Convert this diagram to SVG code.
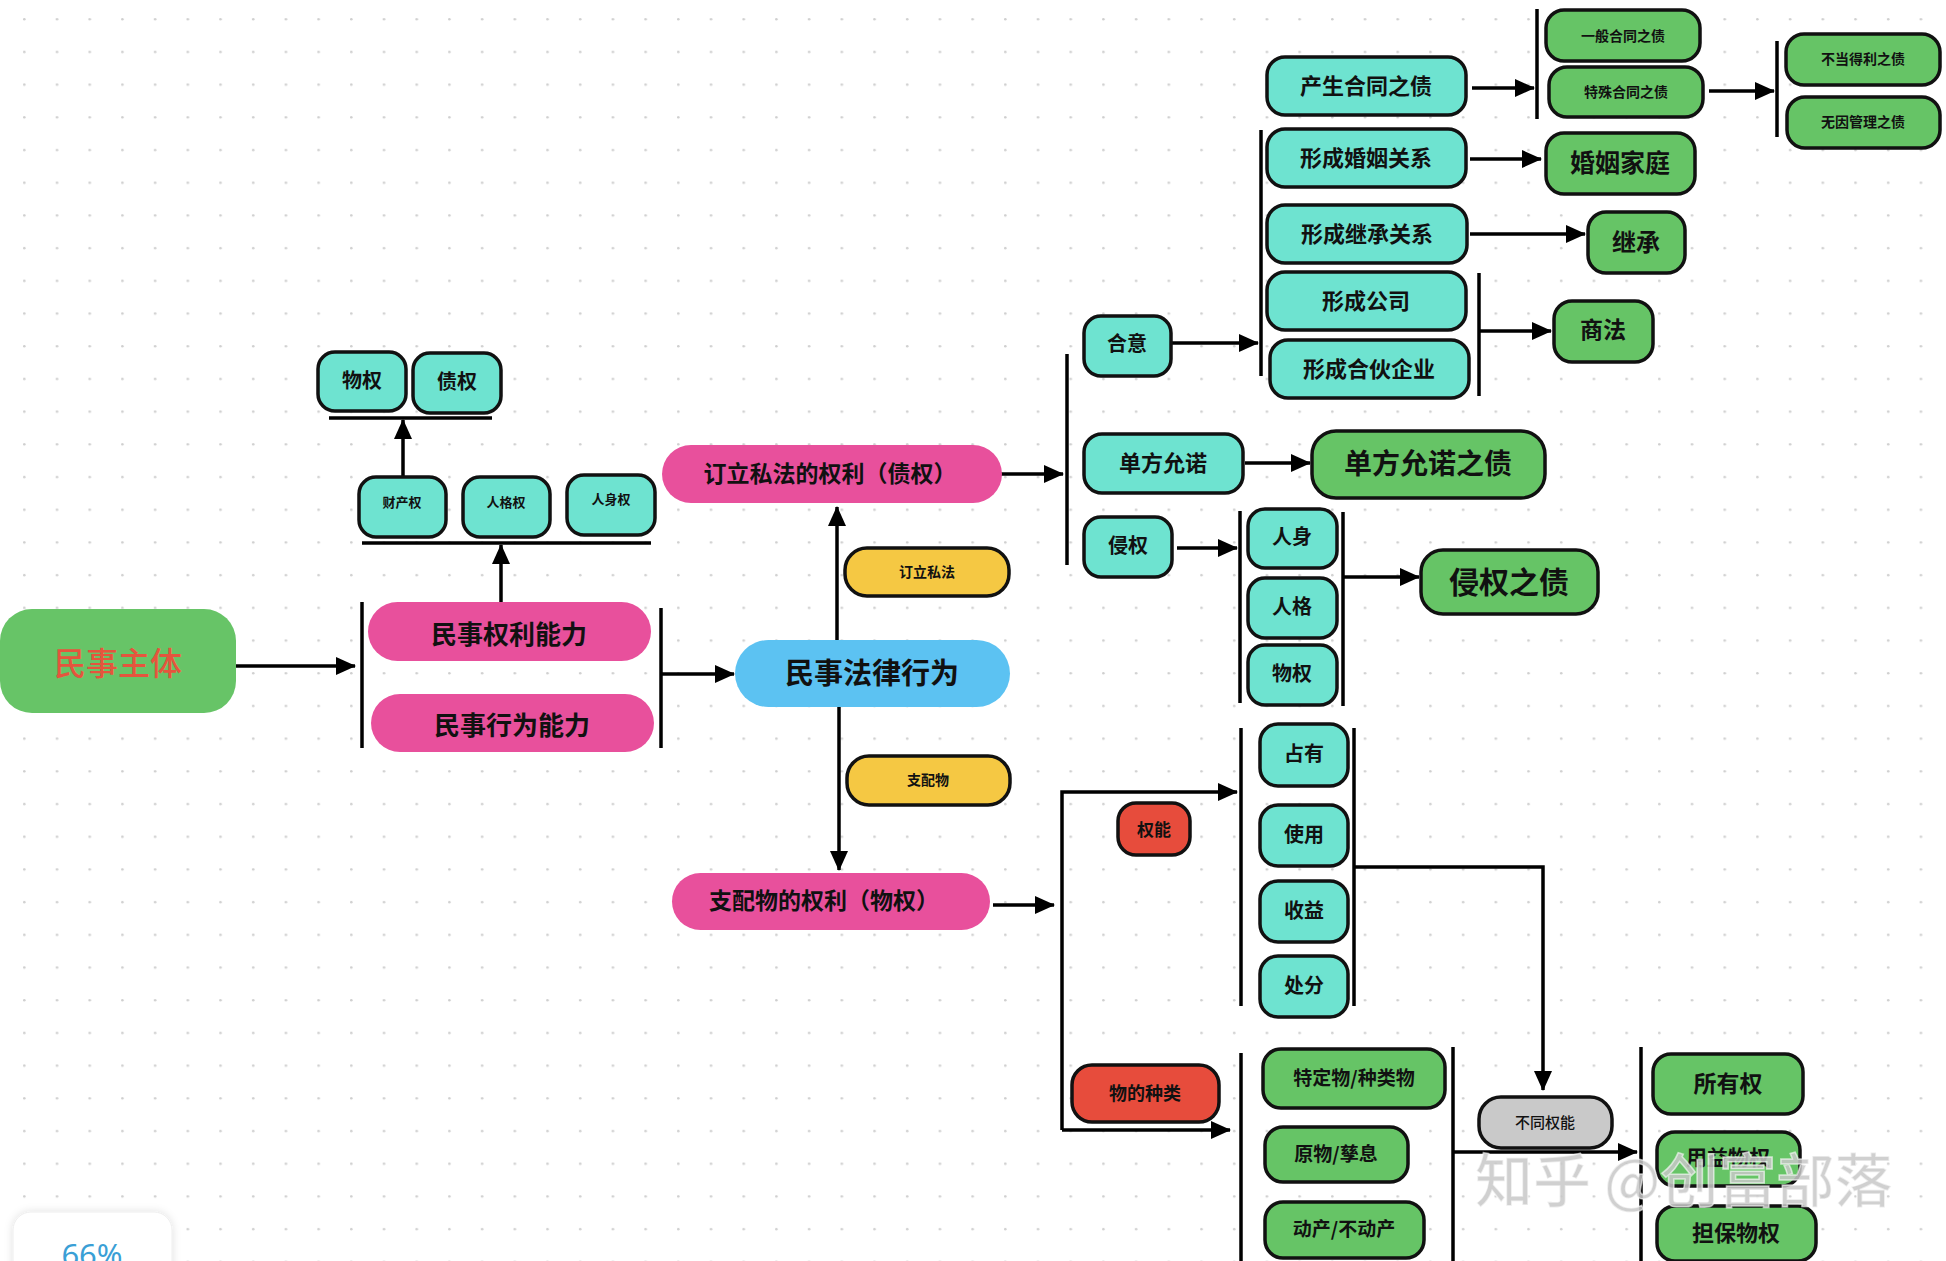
<svg xmlns="http://www.w3.org/2000/svg" width="1946" height="1261" viewBox="0 0 1946 1261">
<style>
.t{font-family:"PingFang SC","Noto Sans CJK SC","Noto Sans",sans-serif;font-weight:700;fill:#111;text-anchor:middle;dominant-baseline:central}
.teal{fill:#6ee3d0;stroke:#111;stroke-width:3.5}
.green{fill:#66c466;stroke:#111;stroke-width:3.5}
.yellow{fill:#f5c843;stroke:#111;stroke-width:3.5}
.red{fill:#e74c3c;stroke:#111;stroke-width:3.5}
.gray{fill:#c9c9c9;stroke:#111;stroke-width:3.5}
.pink{fill:#e8509c}
.blue{fill:#5cc2f2}
.ln{fill:none;stroke:#000;stroke-width:3.5}
.ar{fill:none;stroke:#000;stroke-width:3.5;marker-end:url(#ah)}
</style>
<defs>
<pattern id="dots" x="23" y="18" width="32.7" height="32.7" patternUnits="userSpaceOnUse">
<circle cx="1.3" cy="1.3" r="1.3" fill="#cfcfcf"/>
</pattern>
<marker id="ah" markerUnits="userSpaceOnUse" markerWidth="20" markerHeight="18" refX="19" refY="9" orient="auto">
<path d="M0,0 L20,9 L0,18 z" fill="#000"/>
</marker>
<filter id="sh" x="-20%" y="-20%" width="140%" height="140%">
<feDropShadow dx="0" dy="0" stdDeviation="4" flood-color="#000" flood-opacity="0.12"/>
</filter>
</defs>
<rect width="1946" height="1261" fill="#fff"/>
<rect width="1946" height="1261" fill="url(#dots)"/>

<g id="connectors">
<line class="ar" x1="236" y1="666" x2="355" y2="666"/>
<line class="ln" x1="362" y1="602" x2="362" y2="748"/>
<line class="ln" x1="661" y1="608" x2="661" y2="748"/>
<line class="ar" x1="661" y1="674" x2="734" y2="674"/>
<line class="ar" x1="501" y1="602" x2="501" y2="545"/>
<line class="ln" x1="362" y1="543" x2="651" y2="543"/>
<line class="ar" x1="403" y1="477" x2="403" y2="420"/>
<line class="ln" x1="329" y1="418" x2="492" y2="418"/>
<line class="ar" x1="837" y1="640" x2="837" y2="507"/>
<line class="ar" x1="839" y1="707" x2="839" y2="870"/>
<line class="ar" x1="998" y1="474" x2="1063" y2="474"/>
<line class="ln" x1="1067" y1="354" x2="1067" y2="565"/>
<line class="ar" x1="1171" y1="343" x2="1258" y2="343"/>
<line class="ln" x1="1261" y1="130" x2="1261" y2="376"/>
<line class="ar" x1="1472" y1="88" x2="1534" y2="88"/>
<line class="ln" x1="1537" y1="9" x2="1537" y2="119"/>
<line class="ar" x1="1709" y1="91" x2="1774" y2="91"/>
<line class="ln" x1="1777" y1="41" x2="1777" y2="137"/>
<line class="ar" x1="1470" y1="159" x2="1541" y2="159"/>
<line class="ar" x1="1470" y1="234" x2="1585" y2="234"/>
<line class="ln" x1="1479" y1="273" x2="1479" y2="396"/>
<line class="ar" x1="1479" y1="331" x2="1551" y2="331"/>
<line class="ar" x1="1245" y1="463" x2="1310" y2="463"/>
<line class="ar" x1="1177" y1="548" x2="1237" y2="548"/>
<line class="ln" x1="1240" y1="511" x2="1240" y2="703"/>
<line class="ln" x1="1343" y1="512" x2="1343" y2="706"/>
<line class="ar" x1="1343" y1="577" x2="1419" y2="577"/>
<line class="ar" x1="993" y1="905" x2="1054" y2="905"/>
<path class="ar" d="M1062,1130 V792 H1237"/>
<line class="ar" x1="1062" y1="1130" x2="1230" y2="1130"/>
<line class="ln" x1="1241" y1="728" x2="1241" y2="1006"/>
<line class="ln" x1="1354" y1="728" x2="1354" y2="1006"/>
<path class="ar" d="M1354,867 H1543 V1090"/>
<line class="ln" x1="1241" y1="1053" x2="1241" y2="1261"/>
<line class="ln" x1="1453" y1="1047" x2="1453" y2="1261"/>
<line class="ar" x1="1453" y1="1152" x2="1637" y2="1152"/>
<line class="ln" x1="1641" y1="1047" x2="1641" y2="1261"/>
</g>

<g id="n-minshizhuti"><rect x="0" y="609" width="236" height="104" rx="32" fill="#67c467"/><text class="t" x="118" y="661" style="font-size:32px;font-weight:500;fill:#e5553d">民事主体</text></g>
<g id="n-quanlinengli"><rect class="pink" x="368" y="602" width="283" height="59" rx="29.5"/><text class="t" x="509" y="632" font-size="26">民事权利能力</text></g>
<g id="n-xingweinengli"><rect class="pink" x="371" y="694" width="283" height="58" rx="29"/><text class="t" x="512" y="723" font-size="26">民事行为能力</text></g>
<g id="n-caichanquan"><rect class="teal" x="359" y="477" width="87" height="60" rx="17"/><text class="t" x="402" y="501" font-size="13">财产权</text></g>
<g id="n-rengequan"><rect class="teal" x="463" y="477" width="87" height="60" rx="17"/><text class="t" x="506" y="501" font-size="13">人格权</text></g>
<g id="n-renshenquan"><rect class="teal" x="567" y="475" width="88" height="60" rx="17"/><text class="t" x="611" y="498" font-size="13">人身权</text></g>
<g id="n-wuquan-top"><rect class="teal" x="318" y="352" width="88" height="59" rx="17"/><text class="t" x="362" y="379" font-size="20">物权</text></g>
<g id="n-zhaiquan-top"><rect class="teal" x="413" y="353" width="88" height="60" rx="17"/><text class="t" x="457" y="380" font-size="20">债权</text></g>
<g id="n-dingli"><rect class="pink" x="662" y="445" width="340" height="58" rx="29"/><text class="t" x="830" y="472" font-size="23">订立私法的权利（债权）</text></g>
<g id="n-dingli-label"><rect class="yellow" x="845" y="548" width="164" height="48" rx="22"/><text class="t" x="927" y="571" font-size="14">订立私法</text></g>
<g id="n-falvxingwei"><rect class="blue" x="735" y="640" width="275" height="67" rx="33.5"/><text class="t" x="872" y="671" font-size="29">民事法律行为</text></g>
<g id="n-zhipei-label"><rect class="yellow" x="847" y="756" width="163" height="49" rx="22"/><text class="t" x="928" y="779" font-size="14">支配物</text></g>
<g id="n-zhipei"><rect class="pink" x="672" y="873" width="318" height="57" rx="28.5"/><text class="t" x="824" y="899" font-size="23">支配物的权利（物权）</text></g>
<g id="n-heyi"><rect class="teal" x="1084" y="316" width="87" height="60" rx="17"/><text class="t" x="1127" y="342" font-size="20">合意</text></g>
<g id="n-danfang"><rect class="teal" x="1084" y="434" width="159" height="59" rx="18"/><text class="t" x="1163" y="461" font-size="22">单方允诺</text></g>
<g id="n-qinquan"><rect class="teal" x="1084" y="517" width="88" height="60" rx="17"/><text class="t" x="1128" y="544" font-size="20">侵权</text></g>
<g id="n-hetong"><rect class="teal" x="1267" y="57" width="199" height="58" rx="18"/><text class="t" x="1366" y="84" font-size="22">产生合同之债</text></g>
<g id="n-yiban"><rect class="green" x="1546" y="10" width="154" height="51" rx="18"/><text class="t" x="1623" y="35" font-size="14">一般合同之债</text></g>
<g id="n-teshu"><rect class="green" x="1549" y="67" width="154" height="50" rx="18"/><text class="t" x="1626" y="91" font-size="14">特殊合同之债</text></g>
<g id="n-budang"><rect class="green" x="1786" y="34" width="154" height="51" rx="18"/><text class="t" x="1863" y="58" font-size="14">不当得利之债</text></g>
<g id="n-wuyin"><rect class="green" x="1787" y="97" width="153" height="51" rx="18"/><text class="t" x="1863" y="121" font-size="14">无因管理之债</text></g>
<g id="n-hunyin"><rect class="teal" x="1267" y="129" width="199" height="58" rx="18"/><text class="t" x="1366" y="156" font-size="22">形成婚姻关系</text></g>
<g id="n-hunyinjiating"><rect class="green" x="1546" y="133" width="149" height="61" rx="18"/><text class="t" x="1620" y="161" font-size="25">婚姻家庭</text></g>
<g id="n-jicheng-rel"><rect class="teal" x="1267" y="205" width="200" height="58" rx="18"/><text class="t" x="1367" y="232" font-size="22">形成继承关系</text></g>
<g id="n-jicheng"><rect class="green" x="1588" y="212" width="97" height="61" rx="18"/><text class="t" x="1636" y="240" font-size="24">继承</text></g>
<g id="n-gongsi"><rect class="teal" x="1267" y="272" width="199" height="58" rx="18"/><text class="t" x="1366" y="299" font-size="22">形成公司</text></g>
<g id="n-hehuo"><rect class="teal" x="1270" y="340" width="199" height="58" rx="18"/><text class="t" x="1369" y="367" font-size="22">形成合伙企业</text></g>
<g id="n-shangfa"><rect class="green" x="1554" y="301" width="99" height="61" rx="18"/><text class="t" x="1603" y="328" font-size="23">商法</text></g>
<g id="n-danfangzhai"><rect class="green" x="1312" y="431" width="233" height="67" rx="24"/><text class="t" x="1428" y="462" font-size="28">单方允诺之债</text></g>
<g id="n-renshen"><rect class="teal" x="1248" y="509" width="89" height="59" rx="17"/><text class="t" x="1292" y="535" font-size="20">人身</text></g>
<g id="n-renge"><rect class="teal" x="1248" y="578" width="89" height="60" rx="17"/><text class="t" x="1292" y="605" font-size="20">人格</text></g>
<g id="n-wuquan-qin"><rect class="teal" x="1248" y="645" width="89" height="60" rx="17"/><text class="t" x="1292" y="672" font-size="20">物权</text></g>
<g id="n-qinquanzhai"><rect class="green" x="1421" y="550" width="177" height="64" rx="22"/><text class="t" x="1509" y="580" font-size="30">侵权之债</text></g>
<g id="n-zhanyou"><rect class="teal" x="1260" y="724" width="88" height="62" rx="18"/><text class="t" x="1304" y="752" font-size="20">占有</text></g>
<g id="n-shiyong"><rect class="teal" x="1260" y="805" width="88" height="61" rx="18"/><text class="t" x="1304" y="833" font-size="20">使用</text></g>
<g id="n-shouyi"><rect class="teal" x="1260" y="881" width="88" height="61" rx="18"/><text class="t" x="1304" y="909" font-size="20">收益</text></g>
<g id="n-chufen"><rect class="teal" x="1260" y="956" width="88" height="61" rx="18"/><text class="t" x="1304" y="984" font-size="20">处分</text></g>
<g id="n-quanneng"><rect class="red" x="1118" y="803" width="72" height="52" rx="18"/><text class="t" x="1154" y="828" font-size="17">权能</text></g>
<g id="n-wudezhonglei"><rect class="red" x="1072" y="1065" width="147" height="57" rx="20"/><text class="t" x="1145" y="1092" font-size="18">物的种类</text></g>
<g id="n-teding"><rect class="green" x="1263" y="1049" width="182" height="59" rx="18"/><text class="t" x="1354" y="1076" font-size="19">特定物/种类物</text></g>
<g id="n-yuanwu"><rect class="green" x="1265" y="1127" width="143" height="55" rx="18"/><text class="t" x="1336" y="1152" font-size="19">原物/孳息</text></g>
<g id="n-dongchan"><rect class="green" x="1265" y="1202" width="159" height="56" rx="18"/><text class="t" x="1344" y="1227" font-size="19">动产/不动产</text></g>
<g id="n-butongquanneng"><rect class="gray" x="1479" y="1097" width="133" height="51" rx="22"/><text class="t" x="1545" y="1121" font-size="15" style="font-weight:500">不同权能</text></g>
<g id="n-suoyouquan"><rect class="green" x="1653" y="1054" width="150" height="60" rx="18"/><text class="t" x="1728" y="1082" font-size="23">所有权</text></g>
<g id="n-yongyi"><rect class="green" x="1657" y="1132" width="143" height="54" rx="18"/><text class="t" x="1728" y="1156" font-size="21">用益物权</text></g>
<g id="n-danbao"><rect class="green" x="1657" y="1206" width="159" height="55" rx="18"/><text class="t" x="1736" y="1231" font-size="22">担保物权</text></g>

<text x="1475" y="1202" style="font-family:'Noto Sans CJK SC','Noto Sans',sans-serif;font-size:58px;font-weight:500;fill:#c8c8c8;fill-opacity:0.85;stroke:#fff;stroke-width:1.5;stroke-opacity:0.6">知乎 @创富部落</text>

<g id="zoom-badge"><rect x="13" y="1212" width="159" height="80" rx="18" fill="#fff" stroke="#eee" filter="url(#sh)"/><text x="92" y="1266" text-anchor="middle" style="font-family:'Noto Sans',sans-serif;font-size:31px;fill:#3a9fd6">66%</text></g>
</svg>
